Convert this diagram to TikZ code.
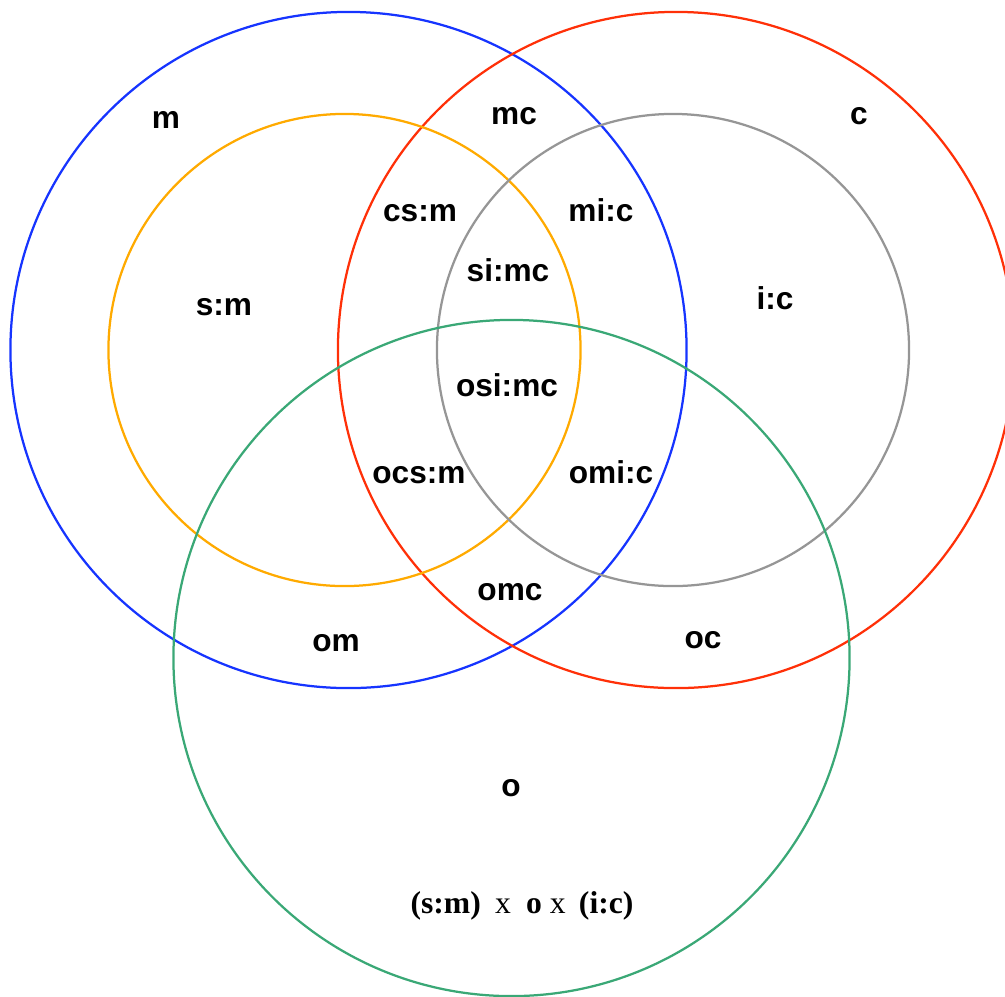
\documentclass[tikz,border=0pt]{standalone}
\usepackage{fontspec}
\setmainfont{Liberation Serif}
\newfontfamily\labelfont{Liberation Sans}
\definecolor{setblue}{RGB}{22,52,255}
\definecolor{setred}{RGB}{255,48,8}
\definecolor{setorange}{RGB}{255,170,0}
\definecolor{setgray}{RGB}{150,150,150}
\definecolor{setgreen}{RGB}{58,168,118}
\begin{document}
\begin{tikzpicture}[x=0.025cm,y=-0.025cm,
  bigset/.style={circle,draw,line width=1.6pt,minimum size=16.9cm,inner sep=0pt},
  smallset/.style={circle,draw,line width=1.6pt,minimum size=11.8cm,inner sep=0pt},
  region/.style={font=\labelfont\bfseries\fontsize{22.5}{26}\selectfont,inner sep=0pt}]
\useasboundingbox (0,0) rectangle (1005,996);
\clip (0,0) rectangle (1005,996);
% the five sets
\node[bigset,draw=setblue] (m) at (348.5,350) {};
\node[bigset,draw=setred] (c) at (676,350) {};
\node[smallset,draw=setorange] (s) at (344.5,350) {};
\node[smallset,draw=setgray] (i) at (673,350) {};
\node[bigset,draw=setgreen] (o) at (511.5,658) {};
% region labels
\node[region] (lm) at (166,120) {m};
\node[region] (lmc) at (514,116) {mc};
\node[region] (lc) at (859,116) {c};
\node[region] (lcsm) at (420,213) {cs:m};
\node[region] (lmic) at (601,210) {mi:c};
\node[region] (lsm) at (224,307) {s:m};
\node[region] (lsimc) at (508,270) {si:mc};
\node[region] (lic) at (775,298) {i:c};
\node[region] (losimc) at (507,385) {osi:mc};
\node[region] (locsm) at (419,475) {ocs:m};
\node[region] (lomic) at (611,472) {omi:c};
\node[region] (lomc) at (510,592) {omc};
\node[region] (lom) at (336,643) {om};
\node[region] (loc) at (703,640) {oc};
\node[region] (lo) at (511,788) {o};
\node[inner sep=0pt,font=\fontsize{22.5}{26}\selectfont] (formula) at (522,906)
  {\textbf{(s:m)}\hspace{0.45em}x\hspace{0.48em}\textbf{o}\hspace{0.25em}x\hspace{0.42em}\textbf{(i:c)}};
\end{tikzpicture}
\end{document}
